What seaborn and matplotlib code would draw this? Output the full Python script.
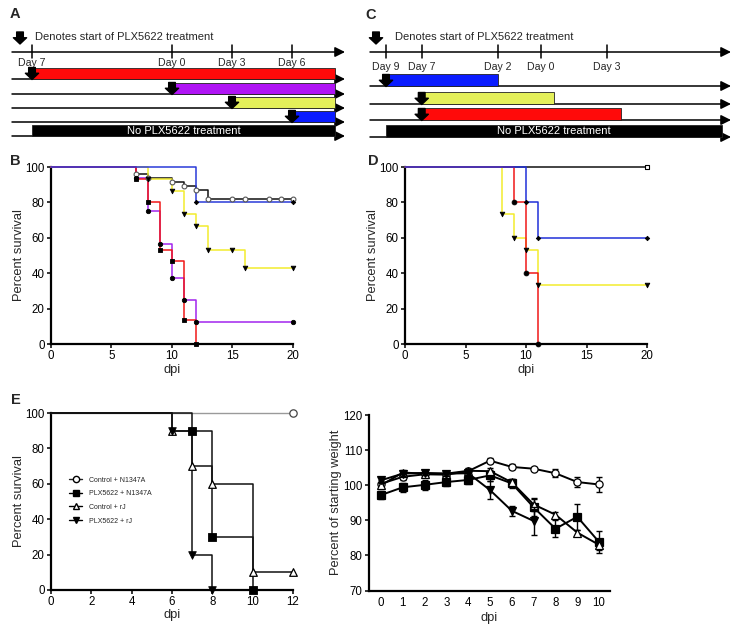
import numpy as np
import pandas as pd
import seaborn as sns
import matplotlib
matplotlib.use("Agg")
import matplotlib.pyplot as plt
from matplotlib.patches import Rectangle
from matplotlib.lines import Line2D

# ---------------- data ----------------
# Panel A schedule (days relative to infection, negative = before)
a_tick_days = [-7, 0, 3, 6]
a_tick_labels = ["Day 7", "Day 0", "Day 3", "Day 6"]
a_bar_start = [-7, 0, 3, 6, -7]
a_bar_end = [8.15, 8.15, 8.15, 8.15, 8.15]
a_bar_colors = ["#ff0a0a", "#b014f5", "#e4f05a", "#0a1cff", "#000000"]
a_has_arrow = [True, True, True, True, False]

# Panel C schedule (positions along the schematic timeline)
c_tick_pos = [0, 2.03, 6.35, 8.8, 12.54]
c_tick_labels = ["Day 9", "Day 7", "Day 2", "Day 0", "Day 3"]
c_bar_start = [0, 2.03, 2.03, 0]
c_bar_end = [6.35, 9.55, 13.35, 19.1]
c_bar_colors = ["#0a1cff", "#e4f05a", "#ff0a0a", "#000000"]
c_has_arrow = [True, True, True, False]

no_treat_label = "No PLX5622 treatment"
legend_label = "Denotes start of PLX5622 treatment"

# Panel B survival
b_black_t = [0, 7, 8, 10, 11, 12, 13]
b_black_s = [100, 96, 94, 91.7, 89.4, 87, 82.1]
b_black_c = [15, 16, 18, 19, 20]
b_yellow_t = [0, 8, 10, 11, 12, 13, 16]
b_yellow_s = [100, 93.3, 86.7, 73.3, 66.7, 53.3, 42.9]
b_yellow_c = [15, 20]
b_purple_t = [0, 7, 8, 9, 10, 11, 12]
b_purple_s = [100, 93.75, 75, 56.25, 37.5, 25, 12.5]
b_purple_c = [20]
b_red_t = [0, 7, 8, 9, 10, 11, 12]
b_red_s = [100, 93.3, 80, 53.3, 46.7, 13.3, 0]
b_red_c = []
b_blue_t = [0, 12]
b_blue_s = [100, 80]
b_blue_c = [20]

# Panel D survival
d_black_t = [0]
d_black_s = [100]
d_black_c = [20]
d_yellow_t = [0, 8, 9, 10, 11]
d_yellow_s = [100, 73.3, 60, 53.3, 33.3]
d_yellow_c = [20]
d_red_t = [0, 9, 10, 11]
d_red_s = [100, 80, 40, 0]
d_red_c = []
d_blue_t = [0, 10, 11]
d_blue_s = [100, 80, 60]
d_blue_c = [20]

# Panel E survival
e_labels = ["Control + N1347A", "PLX5622 + N1347A", "Control + rJ", "PLX5622 + rJ"]
e_ctrl_n_t = [0]
e_ctrl_n_s = [100]
e_ctrl_n_c = [12]
e_plx_n_t = [0, 7, 8, 10]
e_plx_n_s = [100, 90, 30, 0]
e_plx_n_c = []
e_ctrl_rj_t = [0, 6, 7, 8, 10]
e_ctrl_rj_s = [100, 90, 70, 60, 10]
e_ctrl_rj_c = [12]
e_plx_rj_t = [0, 6, 7, 8]
e_plx_rj_s = [100, 90, 20, 0]
e_plx_rj_c = []

# Weight panel
w_days = [0, 1, 2, 3, 4, 5, 6, 7, 8, 9, 10]
w_ctrl_n = [100.4, 102.4, 103.1, 103.0, 104.0, 107.0, 105.2, 104.7, 103.4, 100.9, 100.2]
w_ctrl_n_err = [1.0, 0.8, 0.8, 0.6, 0.8, 0.8, 0.7, 0.5, 1.1, 1.3, 2.2]
w_plx_n = [97.2, 99.4, 100.1, 100.9, 101.5, 102.8, 100.5, 93.7, 87.6, 91.0, 83.8]
w_plx_n_err = [1.2, 1.3, 1.5, 1.0, 1.2, 1.5, 1.2, 2.5, 2.5, 3.7, 3.1]
w_ctrl_rj = [100.0, 103.6, 103.3, 103.3, 104.1, 104.0, 100.8, 94.5, 91.6, 86.5, 83.0]
w_ctrl_rj_err = [0.8, 0.8, 0.6, 0.6, 0.6, 0.8, 1.0, 1.8, 0.8, 0.8, 1.5]
w_days_rj = [0, 1, 2, 3, 4, 5, 6, 7]
w_plx_rj = [101.4, 103.3, 103.5, 103.3, 103.4, 98.6, 92.7, 89.8]
w_plx_rj_err = [0.8, 0.8, 0.6, 0.6, 0.6, 2.5, 1.5, 4.1]

# ---------------- style ----------------
sns.set_theme(style="white")
plt.rcParams["font.family"] = ["Liberation Sans", "DejaVu Sans"]
plt.rcParams["axes.facecolor"] = "white"

W, H = 741, 631
fig = plt.figure(figsize=(W / 100, H / 100), dpi=100)


def px_axes(l, t, r, b):
    return fig.add_axes([l / W, 1 - b / H, (r - l) / W, (b - t) / H])


def down_arrow(ax, x, y_tip, length_px=12, scale=10):
    ax.annotate("", xy=(x, y_tip), xytext=(0, length_px), textcoords="offset pixels",
                xycoords="data",
                arrowprops=dict(arrowstyle="simple,head_length=0.45,head_width=0.95,tail_width=0.48",
                                color="black", mutation_scale=scale, shrinkA=0, shrinkB=0),
                annotation_clip=False, zorder=6)


def line_arrow(ax, x0, x1, y, lw=1.1):
    ax.annotate("", xy=(x1, y), xytext=(x0, y),
                arrowprops=dict(arrowstyle="-|>,head_length=0.6,head_width=0.3", color="black",
                                lw=lw, mutation_scale=10, shrinkA=0, shrinkB=0),
                annotation_clip=False, zorder=3)


def draw_schedule(ax, xlim, line_x, tick_pos, tick_labels, tick_label_y, starts, ends,
                  colors, has_arrow, rows, legend_x, text_x):
    ax.set_xlim(*xlim)
    ax.set_ylim(145, 0)
    ax.axis("off")
    down_arrow(ax, legend_x, 44)
    ax.text(text_x, 37.5, legend_label, fontsize=8, va="center", ha="left")
    line_arrow(ax, line_x[0], line_x[1], 52)
    for p, lab in zip(tick_pos, tick_labels):
        ax.plot([p, p], [45, 57.5], color="black", lw=1.1)
        ax.text(p, tick_label_y, lab, fontsize=7.6, ha="center", va="center")
    for (ly, top, bot), s, e, c, arr in zip(rows, starts, ends, colors, has_arrow):
        line_arrow(ax, line_x[0], line_x[1], ly)
        ax.add_patch(Rectangle((s, top), e - s, bot - top, facecolor=c,
                               edgecolor="#222222", lw=0.6, zorder=4))
        if arr:
            down_arrow(ax, s, ly + 0.5)
        else:
            ax.text((s + e) / 2, (top + bot) / 2 + 0.5, no_treat_label, color="white",
                    fontsize=8, ha="center", va="center", zorder=5)


# Panel A
ax_a = px_axes(0, 0, 365, 145)
draw_schedule(ax_a, ((0 - 172) / 20, (365 - 172) / 20), ((12 - 172) / 20, (345 - 172) / 20),
              a_tick_days, a_tick_labels, 62.5, a_bar_start, a_bar_end, a_bar_colors,
              a_has_arrow,
              [(79, 68, 78.5), (94, 83, 93.5), (108, 97, 107.5), (122, 111, 121.5), (136, 125, 135.5)],
              (20 - 172) / 20, (35 - 172) / 20)

# Panel C
cs = 17.6
ax_c = px_axes(365, 0, 741, 145)
draw_schedule(ax_c, ((365 - 386) / cs, (741 - 386) / cs), ((370 - 386) / cs, (731 - 386) / cs),
              c_tick_pos, c_tick_labels, 66.5, c_bar_start, c_bar_end, c_bar_colors,
              c_has_arrow,
              [(86, 74, 85.5), (104, 92, 103.5), (120, 108, 119.5), (137, 124.5, 136.5)],
              (376 - 386) / cs, (395 - 386) / cs)


# ---------------- survival helpers ----------------
def km(ax, t, s, cens, color, lw, marker, msize, fc, ec, mlw=0.6, zorder=3):
    tt = list(t)
    ss = list(s)
    end = max(cens) if cens else tt[-1]
    if end > tt[-1]:
        tt.append(end)
        ss.append(ss[-1])
    df = pd.DataFrame({"t": tt, "s": ss})
    sns.lineplot(data=df, x="t", y="s", estimator=None, sort=False, drawstyle="steps-post",
                 color=color, lw=lw, ax=ax, clip_on=False, zorder=zorder)
    mx = list(t[1:])
    my = list(s[1:])
    for c in cens:
        idx = max(i for i, v in enumerate(t) if v <= c)
        mx.append(c)
        my.append(s[idx])
    if mx:
        sns.scatterplot(x=mx, y=my, marker=marker, s=msize, facecolor=fc, edgecolor=ec,
                        linewidth=mlw, ax=ax, clip_on=False, zorder=zorder + 1, legend=False)


def style_axes(ax, xlim, xticks, ylim, yticks, xlabel, ylabel, ylab_x, xlab_y):
    ax.set_xlim(*xlim)
    ax.set_ylim(*ylim)
    ax.set_xticks(xticks)
    ax.set_yticks(yticks)
    for sp in ["top", "right"]:
        ax.spines[sp].set_visible(False)
    for sp in ["left", "bottom"]:
        ax.spines[sp].set_linewidth(1.6)
        ax.spines[sp].set_color("black")
    ax.tick_params(axis="both", direction="out", length=3, width=1.1, labelsize=8.3,
                   pad=1.5, colors="black", bottom=True, left=True)
    ax.set_xlabel(xlabel, fontsize=9.3)
    ax.set_ylabel(ylabel, fontsize=9.3)
    ax.yaxis.set_label_coords(ylab_x, 0.5)
    ax.xaxis.set_label_coords(0.5, xlab_y)
    ax.grid(False)


# Panel B
ax_b = px_axes(51, 167, 293, 344)
km(ax_b, b_black_t, b_black_s, b_black_c, "#111111", 1.1, "o", 12, "white", "#555555", 0.8)
km(ax_b, b_yellow_t, b_yellow_s, b_yellow_c, "#f2ec2e", 1.1, "v", 11, "black", "black")
km(ax_b, b_purple_t, b_purple_s, b_purple_c, "#a224ee", 1.1, "o", 10, "black", "black")
km(ax_b, b_red_t, b_red_s, b_red_c, "#f01818", 1.1, "s", 10, "black", "black")
km(ax_b, b_blue_t, b_blue_s, b_blue_c, "#2a3ad8", 1.1, "D", 5, "black", "black")
style_axes(ax_b, (0, 20), [0, 5, 10, 15, 20], (0, 100), [0, 20, 40, 60, 80, 100],
           "dpi", "Percent survival", -0.108, -0.115)

# Panel D
ax_d = px_axes(405, 167, 647, 344)
km(ax_d, d_black_t, d_black_s, d_black_c, "#111111", 1.1, "s", 12, "white", "black", 0.8)
km(ax_d, d_yellow_t, d_yellow_s, d_yellow_c, "#f2ec2e", 1.1, "v", 11, "black", "black")
km(ax_d, d_red_t, d_red_s, d_red_c, "#f01818", 1.1, "o", 12, "black", "black")
km(ax_d, d_blue_t, d_blue_s, d_blue_c, "#2030d8", 1.1, "D", 5, "black", "black")
style_axes(ax_d, (0, 20), [0, 5, 10, 15, 20], (0, 100), [0, 20, 40, 60, 80, 100],
           "dpi", "Percent survival", -0.108, -0.115)

# Panel E
ax_e = px_axes(51, 413, 293, 590)
km(ax_e, e_ctrl_n_t, e_ctrl_n_s, e_ctrl_n_c, "#9a9a9a", 1.0, "o", 28, "white", "#444444", 0.9)
km(ax_e, e_plx_n_t, e_plx_n_s, e_plx_n_c, "#111111", 1.1, "s", 28, "black", "black")
km(ax_e, e_ctrl_rj_t, e_ctrl_rj_s, e_ctrl_rj_c, "#111111", 1.1, "^", 30, "white", "black", 0.9)
km(ax_e, e_plx_rj_t, e_plx_rj_s, e_plx_rj_c, "#111111", 1.1, "v", 30, "black", "black")
style_axes(ax_e, (0, 12), [0, 2, 4, 6, 8, 10, 12], (0, 100), [0, 20, 40, 60, 80, 100],
           "dpi", "Percent survival", -0.108, -0.11)

e_handles = [
    Line2D([], [], color="#222222", lw=1.0, marker="o", markerfacecolor="white",
           markeredgecolor="black", markersize=4.5),
    Line2D([], [], color="black", lw=1.0, marker="s", markerfacecolor="black",
           markeredgecolor="black", markersize=4.5),
    Line2D([], [], color="black", lw=1.0, marker="^", markerfacecolor="white",
           markeredgecolor="black", markersize=4.5),
    Line2D([], [], color="black", lw=1.0, marker="v", markerfacecolor="black",
           markeredgecolor="black", markersize=4.5),
]
ax_e.legend(e_handles, e_labels, loc="upper left", bbox_to_anchor=(0.075, 0.64),
            frameon=False, fontsize=5.0, handlelength=1.9, handletextpad=0.9,
            labelspacing=0.95, borderpad=0, borderaxespad=0)

# Weight panel
ax_w = px_axes(369, 415, 610, 590.5)
w_series = [
    (w_days, w_ctrl_n, w_ctrl_n_err, "o", "white"),
    (w_days, w_plx_n, w_plx_n_err, "s", "black"),
    (w_days, w_ctrl_rj, w_ctrl_rj_err, "^", "white"),
    (w_days_rj, w_plx_rj, w_plx_rj_err, "v", "black"),
]
for i, (x, y, e, m, fc) in enumerate(w_series):
    ax_w.errorbar(x, y, yerr=e, fmt="none", ecolor="black", elinewidth=1.0, capsize=2.5,
                  capthick=1.0, zorder=2 + i)
    sns.lineplot(x=x, y=y, estimator=None, sort=False, color="black", lw=1.4, marker=m,
                 markersize=5.2, markerfacecolor=fc, markeredgecolor="black",
                 markeredgewidth=0.9, ax=ax_w, zorder=3 + i, clip_on=False)
style_axes(ax_w, (-0.55, 10.5), list(range(11)), (70, 120), [70, 80, 90, 100, 110, 120],
           "dpi", "Percent of starting weight", -0.112, -0.12)
ax_w.tick_params(axis="x", length=0, pad=5)

# Panel letters
for letter, x, y in [("A", 15, 14), ("B", 15, 161), ("C", 371, 15), ("D", 373, 161), ("E", 16, 400)]:
    fig.text(x / W, 1 - y / H, letter, fontsize=10.5, fontweight="bold", ha="center", va="center")

fig.savefig("out.png", dpi=100)
